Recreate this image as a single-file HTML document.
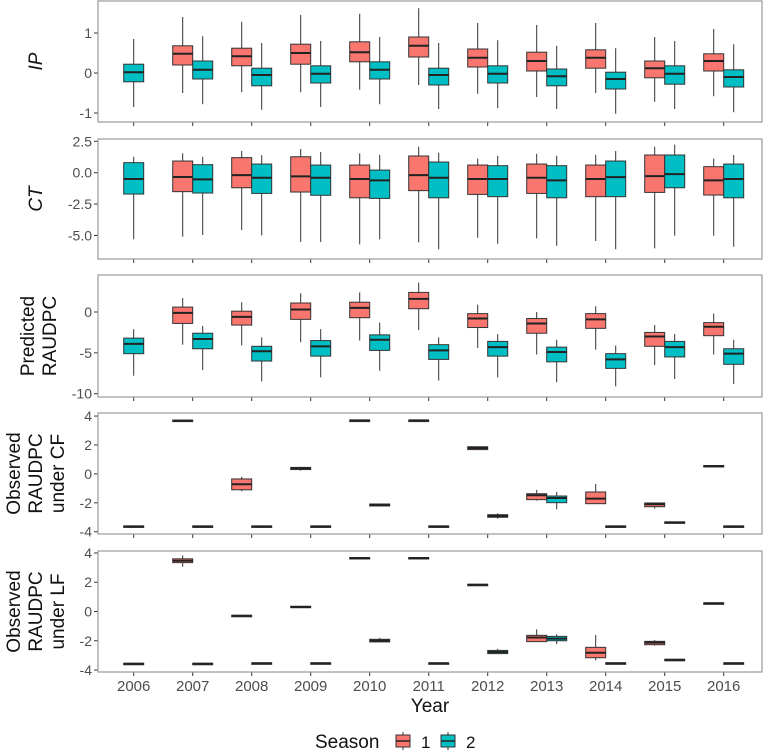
<!DOCTYPE html>
<html><head><meta charset="utf-8"><style>
body{margin:0;background:#fff;}
svg{display:block;font-family:"Liberation Sans",sans-serif;}
</style></head><body>
<svg id="c" width="767" height="756"></svg>
<script>
const years=[2006,2007,2008,2009,2010,2011,2012,2013,2014,2015,2016];
// each stat: [upper whisker, q3, median, q1, lower whisker]; null = absent
const ipS1=[null,[1.4,0.68,0.48,0.2,-0.5],[1.28,0.62,0.42,0.18,-0.48],[1.45,0.72,0.5,0.22,-0.48],[1.48,0.78,0.52,0.28,-0.42],[1.62,0.9,0.68,0.4,-0.3],[1.25,0.6,0.38,0.15,-0.52],[1.2,0.52,0.3,0.05,-0.6],[1.25,0.58,0.38,0.12,-0.5],[0.9,0.3,0.12,-0.12,-0.72],[1.1,0.48,0.3,0.05,-0.58]];
const ipS2=[[0.85,0.22,0.02,-0.22,-0.85],[0.92,0.3,0.08,-0.15,-0.78],[0.75,0.12,-0.05,-0.32,-0.92],[0.8,0.18,-0.02,-0.25,-0.85],[0.9,0.28,0.08,-0.15,-0.78],[0.75,0.12,-0.05,-0.3,-0.9],[0.82,0.18,-0.02,-0.25,-0.88],[0.68,0.1,-0.08,-0.32,-0.9],[0.62,0.02,-0.15,-0.4,-1.02],[0.8,0.18,-0.02,-0.28,-0.9],[0.72,0.08,-0.1,-0.35,-0.98]];
const ctS1=[null,[1.55,0.93,-0.34,-1.51,-5.1],[1.73,1.2,-0.19,-1.2,-4.57],[1.89,1.27,-0.29,-1.54,-5.52],[1.54,0.61,-0.5,-2.0,-5.71],[2.07,1.33,-0.19,-1.43,-5.55],[1.12,0.61,-0.5,-1.73,-5.18],[1.51,0.69,-0.4,-1.65,-5.23],[1.43,0.61,-0.5,-1.91,-5.44],[2.07,1.41,-0.27,-1.57,-6.03],[1.12,0.48,-0.61,-1.78,-5.02]];
const ctS2=[[1.27,0.8,-0.5,-1.7,-5.3],[1.27,0.64,-0.53,-1.62,-4.96],[1.4,0.69,-0.4,-1.65,-5.0],[1.65,0.61,-0.4,-1.8,-5.52],[1.43,0.21,-0.61,-2.05,-5.31],[1.59,0.85,-0.4,-2.0,-6.1],[1.35,0.56,-0.5,-1.91,-5.66],[1.35,0.56,-0.61,-2.0,-5.82],[1.73,0.93,-0.35,-1.91,-6.1],[2.23,1.41,-0.11,-1.2,-5.02],[1.41,0.69,-0.5,-2.0,-5.9]];
const prS1=[null,[1.7,0.6,-0.1,-1.4,-4.0],[1.2,0.1,-0.6,-1.6,-4.1],[2.3,1.1,0.3,-0.9,-3.7],[2.4,1.2,0.5,-0.7,-3.5],[3.6,2.4,1.6,0.4,-2.2],[0.9,-0.2,-0.8,-1.9,-4.4],[0,-0.8,-1.4,-2.6,-5.2],[0.7,-0.2,-0.9,-2.0,-4.6],[-1.6,-2.5,-3.0,-4.2,-6.5],[-0.2,-1.3,-1.8,-2.9,-5.2]];
const prS2=[[-2.1,-3.2,-3.9,-5.1,-7.8],[-1.7,-2.6,-3.3,-4.5,-7.1],[-3.1,-4.2,-4.8,-6.0,-8.5],[-2.1,-3.5,-4.2,-5.4,-8.0],[-1.3,-2.8,-3.4,-4.7,-7.2],[-3.1,-4.0,-4.7,-5.8,-8.4],[-2.7,-3.6,-4.3,-5.4,-8.0],[-3.4,-4.3,-4.9,-6.1,-8.6],[-4.1,-5.1,-5.8,-6.9,-9.1],[-2.7,-3.6,-4.3,-5.5,-8.2],[-3.4,-4.5,-5.1,-6.4,-8.8]];
const cfS1=[null,[3.7,3.72,3.68,3.64,3.66],[-0.2,-0.35,-0.72,-1.1,-1.2],[0.48,0.45,0.39,0.3,0.22],[3.7,3.72,3.7,3.67,3.7],[3.7,3.72,3.7,3.67,3.7],[1.9,1.88,1.79,1.68,1.66],[-1.11,-1.37,-1.48,-1.78,-1.85],[-0.7,-1.25,-1.71,-2.06,-2.06],[-2.01,-2.01,-2.1,-2.27,-2.4],[0.55,0.58,0.55,0.52,0.55]];
const cfS2=[[-3.63,-3.6,-3.63,-3.66,-3.63],[-3.63,-3.6,-3.63,-3.66,-3.63],[-3.63,-3.6,-3.63,-3.66,-3.63],[-3.63,-3.6,-3.63,-3.66,-3.63],[-2.08,-2.08,-2.15,-2.22,-2.22],[-3.63,-3.6,-3.63,-3.66,-3.63],[-2.72,-2.82,-2.91,-3.0,-3.1],[-1.25,-1.53,-1.67,-1.99,-2.45],[-3.63,-3.6,-3.63,-3.66,-3.63],[-3.35,-3.32,-3.35,-3.38,-3.35],[-3.63,-3.6,-3.63,-3.66,-3.63]];
const lfS1=[null,[3.84,3.6,3.47,3.34,3.06],[-0.29,-0.26,-0.29,-0.32,-0.29],[0.36,0.36,0.31,0.26,0.26],[3.66,3.69,3.66,3.63,3.66],[3.66,3.69,3.66,3.63,3.66],[1.83,1.86,1.83,1.8,1.83],[-1.22,-1.63,-1.78,-2.06,-2.06],[-1.61,-2.45,-2.82,-3.16,-3.34],[-1.95,-2.04,-2.13,-2.27,-2.33],[0.56,0.59,0.56,0.53,0.56]];
const lfS2=[[-3.57,-3.54,-3.57,-3.6,-3.57],[-3.57,-3.54,-3.57,-3.6,-3.57],[-3.54,-3.51,-3.54,-3.57,-3.54],[-3.54,-3.51,-3.54,-3.57,-3.54],[-1.8,-1.9,-1.99,-2.08,-2.08],[-3.54,-3.51,-3.54,-3.57,-3.54],[-2.55,-2.66,-2.77,-2.88,-2.88],[-1.56,-1.7,-1.85,-2.0,-2.22],[-3.54,-3.51,-3.54,-3.57,-3.54],[-3.3,-3.27,-3.3,-3.33,-3.3],[-3.54,-3.51,-3.54,-3.57,-3.54]];
const ipTicks=[1,0,-1], ctTicks=[2.5,0,-2.5,-5], prTicks=[0,-5,-10], obTicks=[4,2,0,-2,-4];
const ctLabels=["2.5","0.0","-2.5","-5.0"];

const NS="http://www.w3.org/2000/svg";
const svg=document.getElementById('c');
function el(tag,attrs,parent){const e=document.createElementNS(NS,tag);for(const k in attrs)e.setAttribute(k,attrs[k]);(parent||svg).appendChild(e);return e;}
const X0=98,X1=762;
function xScale(i){return 133.7+59*i;}
const RED="#F8766D",TEAL="#00BFC4";

function panel(name,top,bot,zeroY,pxPerUnit,ticks,labels,s1,s2,titleLines,italic){
  const g=el('g',{});
  
  
  const y=v=>zeroY-v*pxPerUnit;
  ticks.forEach((t,i)=>{
    const tl=el('line',{x1:X0-4,x2:X0,y1:y(t),y2:y(t),stroke:'#333','stroke-width':1},g);
    
    
    const tx=el('text',{x:X0-6,y:y(t)+5,'text-anchor':'end','font-size':14,fill:'#4d4d4d'},g);
    tx.textContent=labels?labels[i]:String(t);
    
    
  });
  years.forEach((yr,i)=>{
    const tk=el('line',{x1:xScale(i),x2:xScale(i),y1:bot,y2:bot+4,stroke:'#333','stroke-width':1},g);
    
    
  });
  function box(st,cx,col,season,yr){
    if(!st)return;
    const w=20,bg=el('g',{},g);
    
    
    el('line',{x1:cx,x2:cx,y1:y(st[0]),y2:y(st[4]),stroke:'#333','stroke-width':1},bg);
    const h=Math.max(1.5,y(st[3])-y(st[1]));
    el('rect',{x:cx-w/2,y:y(st[1]),width:w,height:h,fill:col,stroke:'#333','stroke-width':1},bg);
    el('line',{x1:cx-w/2,x2:cx+w/2,y1:y(st[2]),y2:y(st[2]),stroke:'#222','stroke-width':2},bg);
  }
  years.forEach((yr,i)=>{
    const both=s1[i]&&s2[i];
    box(s1[i],xScale(i)-(both?10:0),RED,1,yr);
    box(s2[i],xScale(i)+(both?10:0),TEAL,2,yr);
  });
  const fr=el('rect',{x:X0,y:top,width:X1-X0,height:bot-top,fill:'none',stroke:'#9a9a9a','stroke-width':1.2},g);
  
  
  const cy=(top+bot)/2,n=titleLines.length,xs0=(n===1?35:(n===2?38:35))-(n-1)*11;
  const tt=el('text',{'font-size':19,fill:'#111','text-anchor':'middle','font-style':italic?'italic':'normal'},g);
  
  
  titleLines.forEach((ln,k)=>{
    const tx=xs0+k*22;
    const ts=el('tspan',{x:0,y:0},tt);ts.textContent=ln;
    ts.setAttribute('transform','');
  });
  // rotate each line separately
  tt.remove();
  titleLines.forEach((ln,k)=>{
    const tx=xs0+k*22+7;
    const t=el('text',{x:tx,y:cy,'font-size':19,fill:'#111','text-anchor':'middle','font-style':italic?'italic':'normal',transform:`rotate(-90 ${tx} ${cy})`},g);
    t.textContent=ln;
    
    
  });
}
panel('ip',1,122,73,40,ipTicks,null,ipS1,ipS2,['IP'],true);
panel('ct',139,259,172.7,12.55,ctTicks,ctLabels,ctS1,ctS2,['CT'],true);
panel('predicted',275,397,312,8.17,prTicks,null,prS1,prS2,['Predicted','RAUDPC'],false);
panel('observed-cf',413,534,473.9,14.46,obTicks,null,cfS1,cfS2,['Observed','RAUDPC','under CF'],false);
panel('observed-lf',551,672,611.5,14.63,obTicks,null,lfS1,lfS2,['Observed','RAUDPC','under LF'],false);

years.forEach((yr,i)=>{
  const t=el('text',{x:xScale(i),y:691,'text-anchor':'middle','font-size':15,fill:'#4d4d4d'});
  t.textContent=yr;
  
  
});
const xt=el('text',{x:430,y:712,'text-anchor':'middle','font-size':19,fill:'#111'});
xt.textContent='Year';


const lg=el('g',{});


const lt=el('text',{x:315,y:748,'font-size':19,fill:'#111'},lg);
lt.textContent='Season';


[[RED,'1',396],[TEAL,'2',441]].forEach(([c,l,x])=>{
  const e=el('g',{},lg);
  
  
  el('line',{x1:x+7,x2:x+7,y1:732,y2:750,stroke:'#333'},e);
  el('rect',{x:x,y:735,width:14,height:12,fill:c,stroke:'#333'},e);
  el('line',{x1:x,x2:x+14,y1:741,y2:741,stroke:'#222','stroke-width':1.5},e);
  const t=el('text',{x:x+25,y:748,'font-size':17,fill:'#111'},e);t.textContent=l;
});
</script>
</body></html>
